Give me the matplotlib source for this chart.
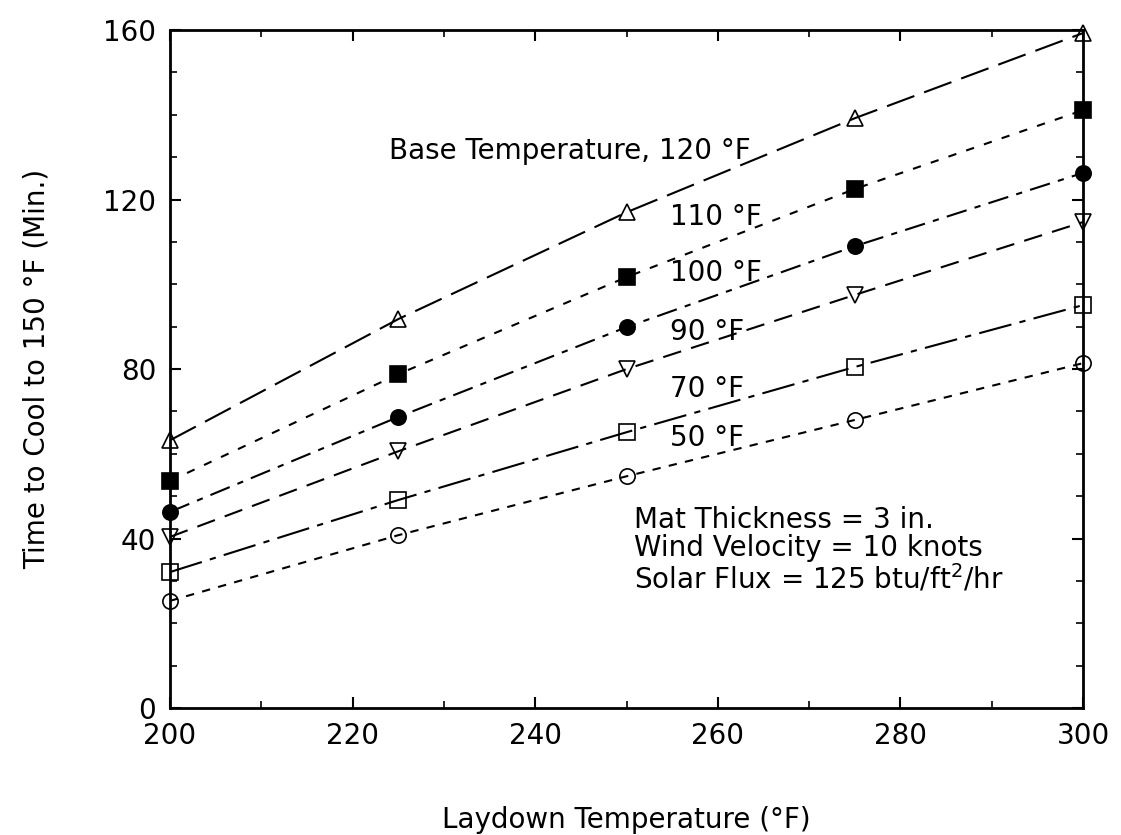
import matplotlib
matplotlib.use("Agg")
from matplotlib import pyplot as plt
from matplotlib.ticker import MultipleLocator

# laydown temperature (F)
laydown = [200, 225, 250, 275, 300]

# time to cool to 150 F (min), one list per base temperature
base_120 = [63.2, 91.8, 117.0, 139.2, 159.3]
base_110 = [53.6, 78.8, 101.7, 122.5, 141.1]
base_100 = [46.3, 68.7, 89.9, 109.0, 126.3]
base_90 = [40.4, 60.6, 80.0, 97.5, 114.7]
base_70 = [32.1, 49.1, 65.1, 80.5, 95.1]
base_50 = [25.3, 40.8, 54.7, 68.0, 81.4]

series_labels = ["Base Temperature, 120 °F", "110 °F", "100 °F", "90 °F", "70 °F", "50 °F"]

plt.rcParams["font.family"] = ["DejaVu Sans"]

fig = plt.figure(figsize=(11.21, 8.35), dpi=100)
ax = fig.add_axes([0.1517, 0.152, 0.8145, 0.812])

styles = [
    (base_120, "^", "none", (0, (14, 5))),
    (base_110, "s", "black", (0, (4, 5))),
    (base_100, "o", "black", (0, (10, 4, 3, 4))),
    (base_90, "v", "none", (0, (9, 5))),
    (base_70, "s", "none", (0, (16, 4, 3, 4))),
    (base_50, "o", "none", (0, (4, 4))),
]
for values, marker, face, dash in styles:
    ax.plot(laydown, values, color="black", linestyle=dash, linewidth=1.5,
            marker=marker, markersize=11, markerfacecolor=face,
            markeredgecolor="black", markeredgewidth=1.2, clip_on=False)

ax.set_xlim(200, 300)
ax.set_ylim(0, 160)
ax.xaxis.set_major_locator(MultipleLocator(20))
ax.xaxis.set_minor_locator(MultipleLocator(10))
ax.yaxis.set_major_locator(MultipleLocator(40))
ax.yaxis.set_minor_locator(MultipleLocator(10))
ax.tick_params(which="both", direction="in", top=True, right=True, labelsize=20, pad=10)
ax.tick_params(which="major", length=8, width=1.5)
ax.tick_params(which="minor", length=5, width=1.2)
for sp in ax.spines.values():
    sp.set_linewidth(2)

ax.set_xlabel("Laydown Temperature (°F)", fontsize=20, labelpad=40)
ax.set_ylabel("Time to Cool to 150 °F (Min.)", fontsize=20, labelpad=38)

ax.text(0.24, 0.81, series_labels[0], transform=ax.transAxes, fontsize=20)
label_y = [0.713, 0.63, 0.543, 0.459, 0.386]
for lab, yy in zip(series_labels[1:], label_y):
    ax.text(0.548, yy, lab, transform=ax.transAxes, fontsize=20)

ax.text(0.508, 0.233, "Mat Thickness = 3 in.\nWind Velocity = 10 knots\nSolar Flux = 125 btu/ft$^2$/hr",
        transform=ax.transAxes, fontsize=20, linespacing=1.0, va="center")

fig.savefig("out.png", dpi=100)
